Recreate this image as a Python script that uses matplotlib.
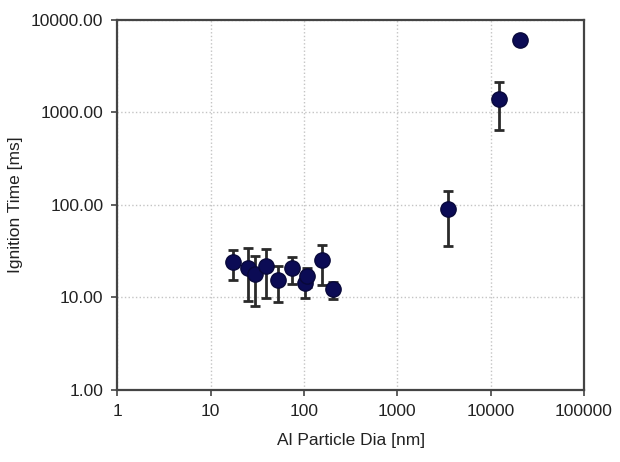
import matplotlib
matplotlib.use("Agg")
import matplotlib.pyplot as plt
from matplotlib.ticker import FixedLocator, FixedFormatter, NullLocator

plt.rcParams['font.family'] = ['Liberation Sans', 'DejaVu Sans']

diameter_nm = [17.4, 25.2, 29.7, 39, 53, 75, 103, 109, 156, 205, 3530, 12300, 20400]
ignition_ms = [23.9, 20.8, 18.0, 21.7, 15.3, 20.8, 14.3, 17.2, 25.6, 12.3, 90.5, 1382, 6070]
err_low = [15.5, 9.1, 8.1, 9.8, 8.9, 13.9, 9.8, 13.0, 13.7, 9.6, 35.7, 644, 6070]
err_high = [32.8, 34.0, 28.3, 33.4, 22.0, 27.3, 17.5, 20.8, 36.6, 14.5, 140, 2130, 6070]

x_ticks = [1, 10, 100, 1000, 10000, 100000]
x_labels = ["1", "10", "100", "1000", "10000", "100000"]
y_ticks = [1, 10, 100, 1000, 10000]
y_labels = ["1.00", "10.00", "100.00", "1000.00", "10000.00"]

fig = plt.figure(figsize=(6.2, 4.62), dpi=100)
ax = fig.add_axes([0.189, 0.156, 0.753, 0.801])

lower = [v - lo for v, lo in zip(ignition_ms, err_low)]
upper = [hi - v for v, hi in zip(ignition_ms, err_high)]
ax.errorbar(diameter_nm, ignition_ms, yerr=[lower, upper], fmt='none',
            ecolor='#2a2a2a', elinewidth=2.0, capsize=3.5, capthick=2.0, zorder=3)
ax.plot(diameter_nm, ignition_ms, 'o', color='#0b0b55', markeredgecolor='#08083a',
        markersize=11, zorder=4)

ax.set_xscale('log')
ax.set_yscale('log')
ax.set_xlim(1, 100000)
ax.set_ylim(1, 10000)
ax.xaxis.set_major_locator(FixedLocator(x_ticks))
ax.xaxis.set_major_formatter(FixedFormatter(x_labels))
ax.yaxis.set_major_locator(FixedLocator(y_ticks))
ax.yaxis.set_major_formatter(FixedFormatter(y_labels))
ax.xaxis.set_minor_locator(NullLocator())
ax.yaxis.set_minor_locator(NullLocator())

ax.grid(True, which='major', linestyle=':', color='#c4c4c4', linewidth=1.0)
for s in ax.spines.values():
    s.set_color('#444444')
    s.set_linewidth(1.6)
ax.tick_params(axis='both', direction='out', length=4, width=1.2, color='#444444',
               labelsize=12.5, labelcolor='#222222', pad=6)

ax.set_xlabel('Al Particle Dia [nm]', fontsize=12.5, color='#222222', labelpad=10)
ax.set_ylabel('Ignition Time [ms]', fontsize=12.5, color='#222222', labelpad=6)

fig.savefig('out.png', dpi=100)
